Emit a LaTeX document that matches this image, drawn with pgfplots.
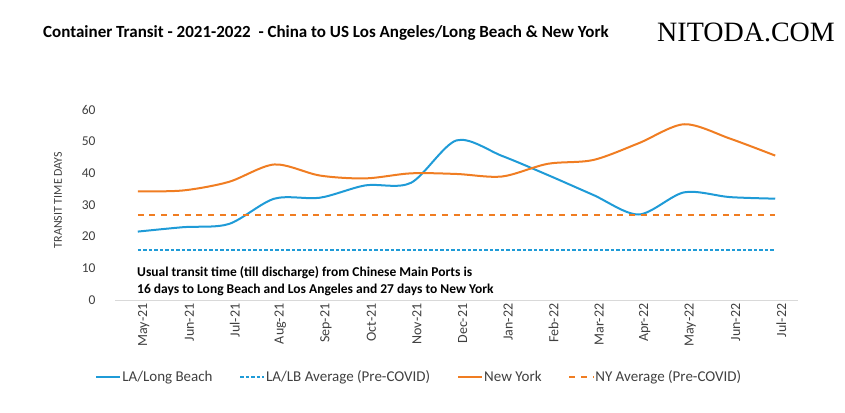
\documentclass[border=0pt]{standalone}
\usepackage{pgfplots}
\pgfplotsset{compat=1.18}
\usepackage{fontspec}
\setmainfont{Carlito}
\newfontfamily\wmfont{Liberation Serif}
\definecolor{lablue}{HTML}{1F9BD7}
\definecolor{nyorange}{HTML}{F07D22}
\definecolor{ticktext}{HTML}{404040}
\begin{document}
\begin{tikzpicture}[x=1pt,y=1pt]
\useasboundingbox (0,0) rectangle (845,412);
\node[anchor=west,inner sep=0pt,font=\bfseries\fontsize{17}{19}\selectfont] at (43,379) {Container Transit - 2021-2022 \ - China to US Los Angeles/Long Beach \& New York};
\node[anchor=east,inner sep=0pt,font=\wmfont\fontsize{28}{30}\selectfont] at (835,380) {NITODA.COM};
\begin{axis}[
  at={(115pt,112pt)}, anchor=south west,
  scale only axis, width=683pt, height=190pt,
  xmin=-0.5, xmax=14.5, ymin=0, ymax=60,
  axis lines=left,
  y axis line style={draw=none},
  x axis line style={draw=black!15, line width=0.8pt, -},
  major tick length=0pt,
  xtick={0,...,14},
  xticklabels={May-21,Jun-21,Jul-21,Aug-21,Sep-21,Oct-21,Nov-21,Dec-21,Jan-22,Feb-22,Mar-22,Apr-22,May-22,Jun-22,Jul-22},
  every x tick label/.append style={rotate=90, anchor=east, font=\fontsize{14}{16}\selectfont, text=ticktext, yshift=-6pt},
  ytick={0,10,20,30,40,50,60},
  yticklabels={0,10,20,30,40,50,60},
  every y tick label/.append style={font=\fontsize{13.5}{16}\selectfont, text=ticktext, xshift=-16pt},
  legend columns=4,
  legend style={at={(0.4447,-0.405)}, anchor=center, draw=none, fill=none,
    font=\fontsize{15}{17}\selectfont, text=ticktext,
    nodes={inner sep=1pt},
    /tikz/every even column/.append style={column sep=26pt}},
  legend image code/.code={\draw[#1] (0pt,0pt) -- (24pt,0pt);},
  clip=false,
]
\addplot[lablue, line width=2pt, smooth, tension=0.5] coordinates {
(0,21.6) (1,23.0) (2,24.0) (3,32.0) (4,32.3) (5,36.2) (6,37.0) (7,50.4) (8,45.5) (9,39.5) (10,33.2) (11,27.0) (12,34.0) (13,32.5) (14,32.0)};
\addlegendentry{LA/Long Beach}
\addplot[lablue, line width=1.5pt, dash pattern=on 3.5pt off 2pt] coordinates {(0,15.8) (14,15.8)};
\addlegendentry{LA/LB Average (Pre-COVID)}
\addplot[nyorange, line width=2pt, smooth, tension=0.5] coordinates {
(0,34.3) (1,34.6) (2,37.3) (3,42.8) (4,39.3) (5,38.4) (6,40.0) (7,39.8) (8,39.0) (9,43.0) (10,44.2) (11,49.5) (12,55.5) (13,51.0) (14,45.6)};
\addlegendentry{New York}
\addplot[nyorange, line width=1.8pt, dash pattern=on 6pt off 5.7pt] coordinates {(0,26.9) (14,26.9)};
\addlegendentry{NY Average (Pre-COVID)}
\end{axis}
\node[anchor=north west, align=left, inner sep=0pt, font=\bfseries\fontsize{13.5}{17}\selectfont] at (137,146) {Usual transit time (till discharge) from Chinese Main Ports is\\16 days to Long Beach and Los Angeles and 27 days to New York};
\node[rotate=90, inner sep=0pt, font=\fontsize{12}{14}\selectfont, text=ticktext] at (58,212) {TRANSIT TIME DAYS};
\end{tikzpicture}
\end{document}
